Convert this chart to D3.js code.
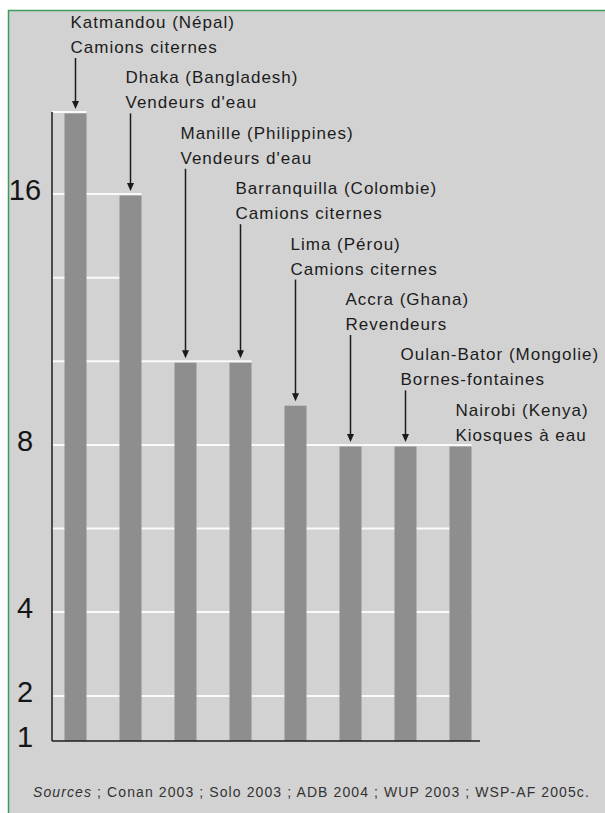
<!DOCTYPE html>
<html>
<head>
<meta charset="utf-8">
<script src="https://cdn.jsdelivr.net/npm/d3@7"></script>
<style>
  body { margin: 0; background: #fff; }
  svg { display: block; }
  .lbl { font-family: "Liberation Sans", Arial, sans-serif; font-size: 17px; letter-spacing: 1px; fill: #1c1c1c; }
  .tick { font-family: "Liberation Sans", Arial, sans-serif; font-size: 29px; fill: #151515; }
  .src { font-family: "Liberation Sans", Arial, sans-serif; font-size: 14px; letter-spacing: 1.1px; fill: #333; }
</style>
</head>
<body>
<svg id="chart" width="605" height="813"></svg>
<script>
// cities and what they buy from
var cities = ["Katmandou (Népal)", "Dhaka (Bangladesh)", "Manille (Philippines)", "Barranquilla (Colombie)",
              "Lima (Pérou)", "Accra (Ghana)", "Oulan-Bator (Mongolie)", "Nairobi (Kenya)"];
var sellers = ["Camions citernes", "Vendeurs d'eau", "Vendeurs d'eau", "Camions citernes",
               "Camions citernes", "Revendeurs", "Bornes-fontaines", "Kiosques à eau"];
var values = [18.67, 16, 10.67, 10.67, 9.3, 8, 8, 8];
var tickValues = [1, 2, 4, 8, 16];
var gridValues = [2, 4, 6, 8, 32 / 3, 40 / 3, 16, 56 / 3];
var source = " ; Conan 2003 ; Solo 2003 ; ADB 2004 ; WUP 2003 ; WSP-AF 2005c.";

var svg = d3.select("#chart");

// panel, framed only on top and left (it runs off the page)
svg.append("rect")
    .attr("x", 8.5).attr("y", 10.5)
    .attr("width", 700).attr("height", 900)
    .attr("fill", "#d2d2d2");
svg.append("path")
    .attr("d", "M8.5,813V10.5H605")
    .attr("fill", "none")
    .attr("stroke", "#3f9a5e").attr("stroke-width", 1.5);

var x = d3.scaleBand()
    .domain(cities)
    .range([48, 488])
    .paddingInner(0.6)
    .paddingOuter(0.3);

// the printed axis is not regular: 2-4 is one grid step, 4-8 two, 8-16 three
var y = d3.scaleLinear()
    .domain([1, 2, 4, 8, 16, 56 / 3])
    .range([741, 696, 612, 445, 194, 112]);

var axisLeft = 52, axisRight = 480;

// white grid lines, each running to the last bar that reaches it
svg.append("g").selectAll("line")
    .data(gridValues)
    .enter().append("line")
    .attr("x1", axisLeft)
    .attr("x2", function(g) {
        var last = 0;
        values.forEach(function(v, i) { if (v >= g - 0.05) last = i; });
        return x(cities[last]) + x.bandwidth();
    })
    .attr("y1", function(g) { return y(g); })
    .attr("y2", function(g) { return y(g); })
    .attr("stroke", "#fafafa")
    .attr("stroke-width", 2);

// bars
svg.append("g").selectAll("rect")
    .data(values)
    .enter().append("rect")
    .attr("x", function(d, i) { return x(cities[i]); })
    .attr("width", x.bandwidth())
    .attr("y", function(d) { return y(d) + 1.5; })
    .attr("height", function(d) { return y(1) - y(d) - 1.5; })
    .attr("fill", "#8e8e8e");

// axes
svg.append("line")
    .attr("x1", axisLeft).attr("x2", axisLeft)
    .attr("y1", y(56 / 3)).attr("y2", y(1))
    .attr("stroke", "#1e1e1e").attr("stroke-width", 1.5);
svg.append("line")
    .attr("x1", axisLeft).attr("x2", axisRight)
    .attr("y1", y(1)).attr("y2", y(1))
    .attr("stroke", "#1e1e1e").attr("stroke-width", 1.5);

svg.append("g").selectAll("text")
    .data(tickValues)
    .enter().append("text")
    .attr("class", "tick")
    .attr("x", 25)
    .attr("y", function(d) { return y(d) - 4; })
    .attr("dy", "0.36em")
    .attr("text-anchor", "middle")
    .text(function(d) { return d; });

// labels and arrows
var labelY = function(i) { return 28 + i * 55.4; };
var lineGap = 25;

var lab = svg.append("g").selectAll("g")
    .data(cities)
    .enter().append("g");

lab.append("text")
    .attr("class", "lbl")
    .attr("x", function(c) { return x(c) + x.bandwidth() / 2 - 5; })
    .attr("y", function(c, i) { return labelY(i); })
    .text(function(c) { return c; });
lab.append("text")
    .attr("class", "lbl")
    .attr("x", function(c) { return x(c) + x.bandwidth() / 2 - 5; })
    .attr("y", function(c, i) { return labelY(i) + lineGap; })
    .text(function(c, i) { return sellers[i]; });

// only where there is room between the label and the bar
var arrows = lab.filter(function(c, i) { return y(values[i]) - (labelY(i) + lineGap) > 20; });

arrows.append("line")
    .attr("x1", function(c) { return x(c) + x.bandwidth() / 2; })
    .attr("x2", function(c) { return x(c) + x.bandwidth() / 2; })
    .attr("y1", function(c) { var i = cities.indexOf(c); return labelY(i) + lineGap + 5; })
    .attr("y2", function(c) { return y(values[cities.indexOf(c)]) - 8; })
    .attr("stroke", "#1a1a1a").attr("stroke-width", 1.5);

arrows.append("path")
    .attr("d", function(c) {
        var cx = x(c) + x.bandwidth() / 2, ty = y(values[cities.indexOf(c)]) - 3;
        return "M" + (cx - 3.5) + "," + (ty - 8) + "L" + (cx + 3.5) + "," + (ty - 8) + "L" + cx + "," + ty + "Z";
    })
    .attr("fill", "#1a1a1a");

// sources
var src = svg.append("text")
    .attr("class", "src")
    .attr("x", 33)
    .attr("y", 797);
src.append("tspan").attr("font-style", "italic").text("Sources");
src.append("tspan").text(source);
</script>
</body>
</html>
